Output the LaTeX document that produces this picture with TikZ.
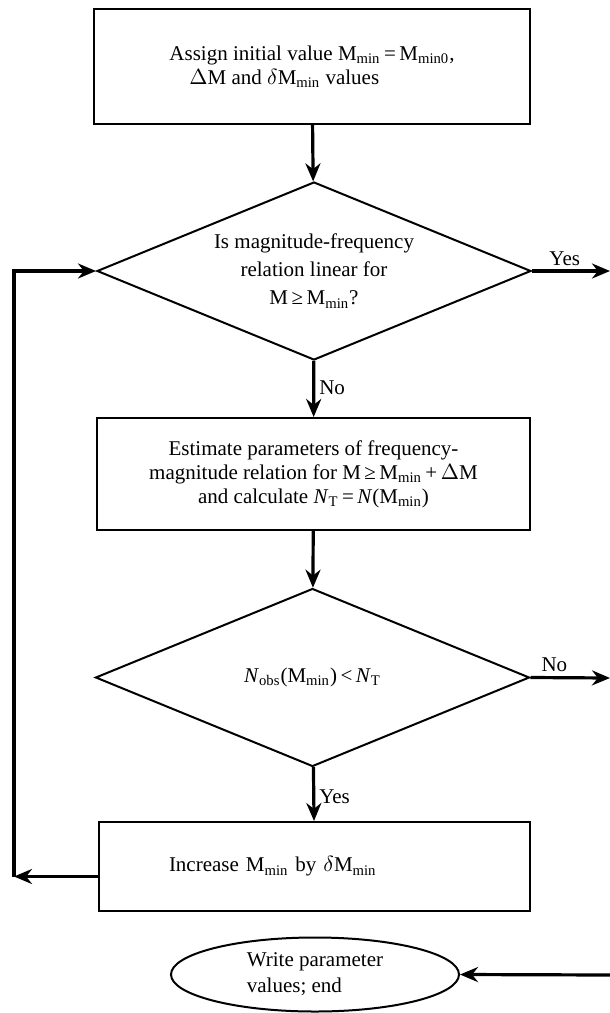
\documentclass[tikz,border=0pt]{standalone}
\usepackage{fontspec}
\setmainfont{Liberation Serif}
\usepackage{tikz}
\usetikzlibrary{arrows.meta,shapes.geometric}
\newcommand{\sbs}[1]{\textsubscript{#1}}
\newcommand{\Mmin}{M\sbs{min}}

\begin{document}
\begin{tikzpicture}[
  x=0.5pt,y=-0.5pt,
  every node/.style={font=\fontsize{10.5}{12}\selectfont,align=center},
  proc/.style={rectangle,draw=black,line width=1pt,inner sep=0pt},
  test/.style={diamond,draw=black,line width=1pt,aspect=2.4,inner sep=0pt,
               minimum width=217pt,minimum height=89pt},
  stop/.style={ellipse,draw=black,line width=1pt,inner sep=0pt,
               minimum width=144pt,minimum height=37pt},
  arr/.style={-{Stealth[length=9pt,width=7.5pt]},line width=1.6pt},
  lab/.style={font=\fontsize{10.5}{12}\selectfont,inner sep=2pt}
]
\useasboundingbox (0,0) rectangle (610,1013);
\node[proc,minimum width=218pt,minimum height=57.5pt,align=left] (init) at (312,66.5)
  {Assign initial value \Mmin\,=\,M\sbs{min0},\\
   \hspace*{10pt}$\Delta$M and $\delta$\Mmin{} values};
\node[test,font=\fontsize{10.5}{14}\selectfont] (lin) at (314,271)
  {Is magnitude-frequency\\relation linear for\\M\,≥\,\Mmin?};
\node[proc,minimum width=216.5pt,minimum height=56pt] (est) at (313.5,474)
  {Estimate parameters of frequency-\\
   magnitude relation for M\,≥\,\Mmin\,+\,$\Delta$M\\
   and calculate \textit{N}\sbs{T}\,=\,\textit{N}(\Mmin)};
\node[test] (cmp) at (312.5,677.5)
  {\textit{N}\sbs{obs}(\Mmin)\,<\,\textit{N}\sbs{T}};
\node[proc,minimum height=44.5pt,inner xsep=35pt,text width=145.5pt,align=left] (incr) at (314.5,866.5)
  {Increase \Mmin{} by $\delta$\Mmin};
\node[stop,align=left,font=\fontsize{10.5}{13}\selectfont] (done) at (315,974.5)
  {Write parameter\\values; end};
\coordinate (yesout) at (610,271);
\coordinate (noout) at (610,678);
\coordinate (endin) at (610,975);
\coordinate (loopbot) at (14,876.5);
\draw[arr] (init) -- (lin);
\draw[arr] (lin.east) -- node[lab,above,pos=0.42] (yes1) {Yes} (yesout);
\draw[arr] (lin) -- node[lab,right,pos=0.48] (no1) {No} (est);
\draw[arr] (est) -- (cmp);
\draw[arr] (cmp.east) -- node[lab,above,pos=0.3] (no2) {No} (noout);
\draw[arr] (cmp) -- node[lab,right,pos=0.55] (yes2) {Yes} (incr);
\draw[arr] ([yshift=-5pt]incr.west) -- (loopbot);
\draw[arr] (loopbot) |- (lin.west);
\draw[arr] (endin) -- (done.east);
\end{tikzpicture}
\end{document}
